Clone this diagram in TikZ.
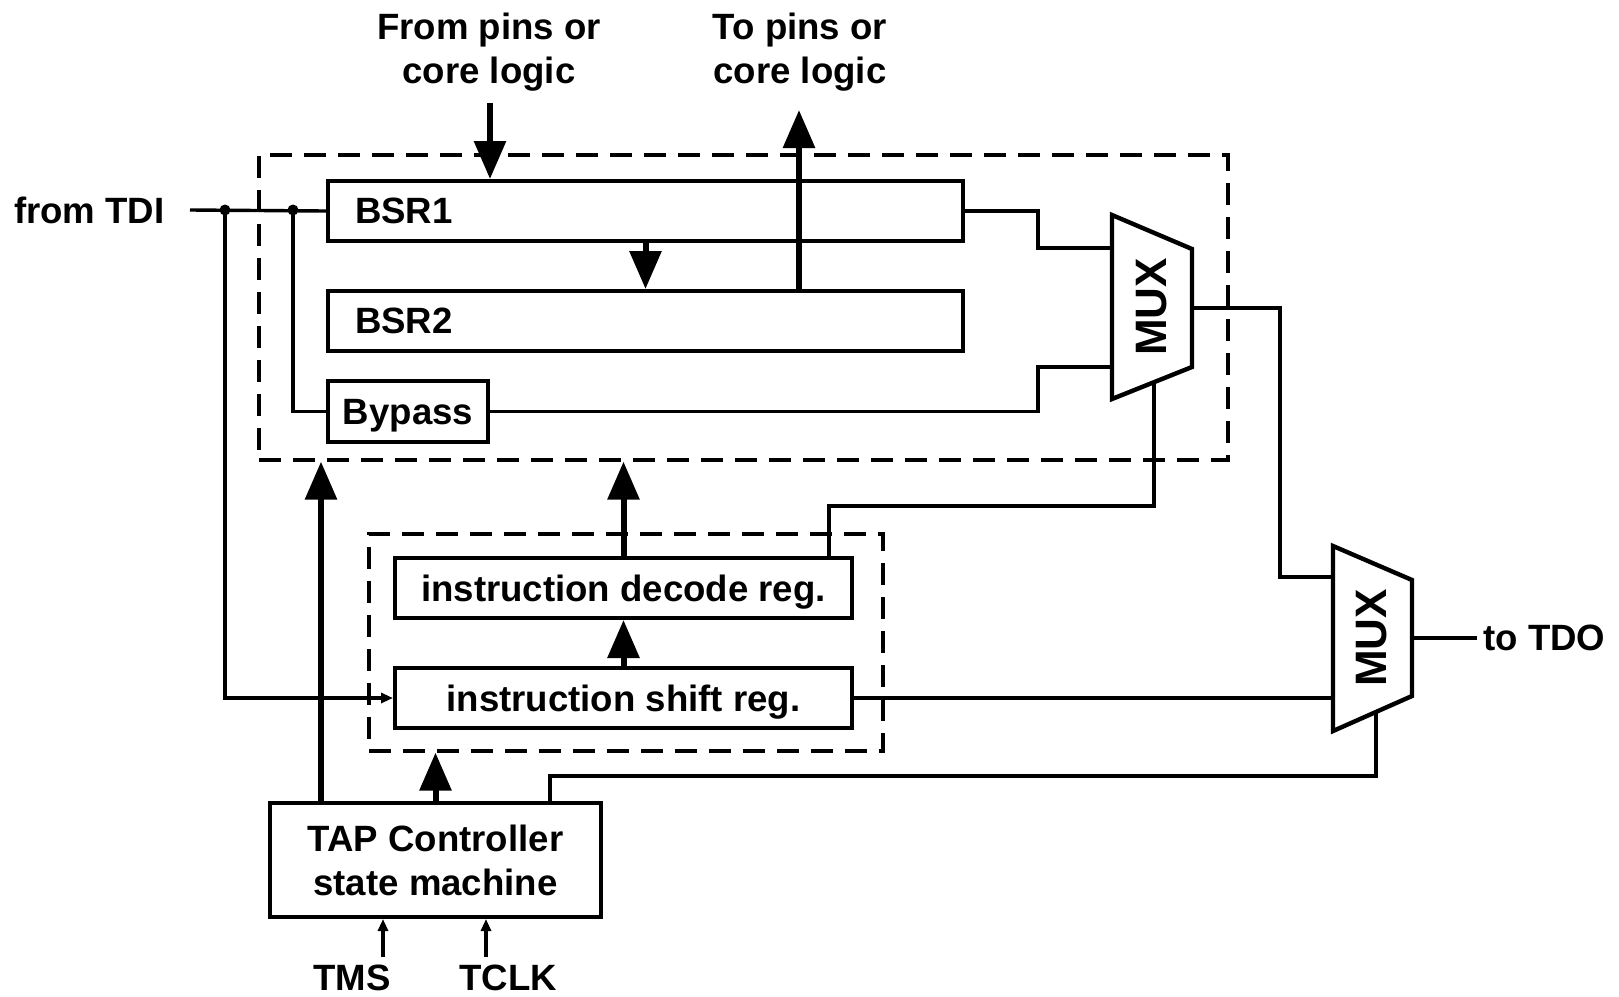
\documentclass[tikz,border=0pt]{standalone}
\usepackage{fontspec}
\setmainfont{Liberation Sans}
\usetikzlibrary{arrows.meta,calc}
\begin{document}
\begin{tikzpicture}[x=0.5pt,y=-0.5pt,
  txt/.style={font=\fontsize{18.3}{22}\selectfont\bfseries, inner sep=0pt},
  regbox/.style={draw, line width=2pt, txt, text depth=0pt},
  tapbox/.style={draw, line width=2pt, txt, align=center},
  dashbox/.style={draw, line width=1.6pt, dash pattern=on 11pt off 6pt},
  wire/.style={line width=1.7pt},
  bigarrow/.style={line width=3pt, -{Triangle[length=19pt,width=15.5pt]}},
  smallarrow/.style={line width=1.6pt, -{Triangle[length=6pt,width=5pt]}},
  muxshape/.style={draw, line width=2.2pt, line join=miter},
  muxtxt/.style={font=\fontsize{22}{26}\selectfont\bfseries, rotate=90, inner sep=0pt},
  dot/.style={circle, fill, inner sep=0pt, minimum size=5.5pt}
]
\useasboundingbox (0,0) rectangle (1619,997);

% dashed groups
\node[dashbox, minimum width=484.5pt, minimum height=152.5pt] (outer) at (743.5,307.5) {};
\node[dashbox, minimum width=257pt, minimum height=108.5pt] (inner) at (626,642.5) {};

% registers
\node[regbox, minimum width=317.5pt, minimum height=30pt, text width=290.5pt, align=left] (bsr1) at (645.5,211) {BSR1};
\node[regbox, minimum width=317.5pt, minimum height=30pt, text width=290.5pt, align=left] (bsr2) at (645.5,321) {BSR2};
\node[regbox, minimum width=80pt, minimum height=30.5pt] (bypass) at (408,411.5) {Bypass};
\node[regbox, minimum width=228.5pt, minimum height=30pt] (decode) at (623.5,588) {instruction decode reg.};
\node[regbox, minimum width=228.5pt, minimum height=30pt] (shift) at (623.5,698) {instruction shift reg.};
\node[tapbox, minimum width=165.5pt, minimum height=57pt] (tap) at (435.5,860) {TAP Controller\\state machine};

% MUX 1
\coordinate (m1tl) at (1112,215);
\coordinate (m1tr) at (1192,249);
\coordinate (m1br) at (1192,367);
\coordinate (m1bl) at (1112,399);
\draw[muxshape] (m1tl) -- (m1tr) -- (m1br) -- (m1bl) -- cycle;
\node[muxtxt] (mux1) at (1152,307) {MUX};
\coordinate (m1a) at (1112,248);
\coordinate (m1b) at (1112,367);
\coordinate (m1o) at (1192,308);
\coordinate (m1s) at (1154,382);

% MUX 2
\coordinate (m2tl) at (1333,546);
\coordinate (m2tr) at (1412,580);
\coordinate (m2br) at (1412,696);
\coordinate (m2bl) at (1333,731);
\draw[muxshape] (m2tl) -- (m2tr) -- (m2br) -- (m2bl) -- cycle;
\node[muxtxt] (mux2) at (1372,638) {MUX};
\coordinate (m2a) at (1333,577);
\coordinate (m2b) at (1333,698);
\coordinate (m2o) at (1412,638);
\coordinate (m2s) at (1376,712);

% labels
\node[txt, anchor=east, inner xsep=12.5pt] (tdilbl) at (190,210) {from TDI};
\node[txt, anchor=west, inner xsep=3pt] (tdo) at (1477,638) {to TDO};
\node[txt, align=center] (fromlbl) at (489,52) {From pins or\\core logic};
\node[txt, align=center] (tolbl) at (800,52) {To pins or\\core logic};
\node[txt] (tms) at (352,978) {TMS};
\node[txt] (tclk) at (508,978) {TCLK};

% TDI distribution
\node[dot] (d1) at (225,210) {};
\node[dot] (d2) at (293,210) {};
\draw[wire] (tdilbl.east) -- (bsr1.west);
\draw[smallarrow] (d1.center) |- (shift.west);
\draw[wire] (d2.center) |- (bypass.west);

% to MUX1
\draw[wire] (bsr1.east) -| ([xshift=-37pt]m1a) -- (m1a);
\draw[wire] (bypass.east) -| ([xshift=-37pt]m1b) -- (m1b);

% BSR arrows
\draw[bigarrow] (bsr1.south) -- (bsr2.north);
\coordinate (fin) at (490,103);
\draw[bigarrow] (fin) -- (fin |- bsr1.north);
\coordinate (tout) at (799,110);
\draw[bigarrow] (tout |- bsr2.north) -- (tout);

% instruction path
\draw[bigarrow] (shift.north) -- (decode.south);
\draw[bigarrow] (decode.north) -- (decode.north |- outer.south);
\coordinate (dsel) at (829,558);
\draw[wire] (m1s) |- ([yshift=26pt]dsel) -- (dsel);

% TAP outputs
\coordinate (t1) at (321,803);
\draw[bigarrow] (t1) -- (t1 |- outer.south);
\draw[bigarrow] (tap.north) -- (tap.north |- inner.south);
\coordinate (t3) at (550,803);
\draw[wire] (t3) |- ([yshift=-32pt]m2s) -- (m2s);

% MUX2 inputs/outputs
\draw[wire] (m1o) -| ([xshift=-26.5pt]m2a) -- (m2a);
\draw[wire] (shift.east) -- (m2b);
\draw[wire] (m2o) -- (tdo.west);

% TMS / TCLK
\coordinate (tmsa) at (383,957);
\draw[smallarrow] (tmsa) -- (tmsa |- tap.south);
\coordinate (tclka) at (486,957);
\draw[smallarrow] (tclka) -- (tclka |- tap.south);
\end{tikzpicture}
\end{document}
